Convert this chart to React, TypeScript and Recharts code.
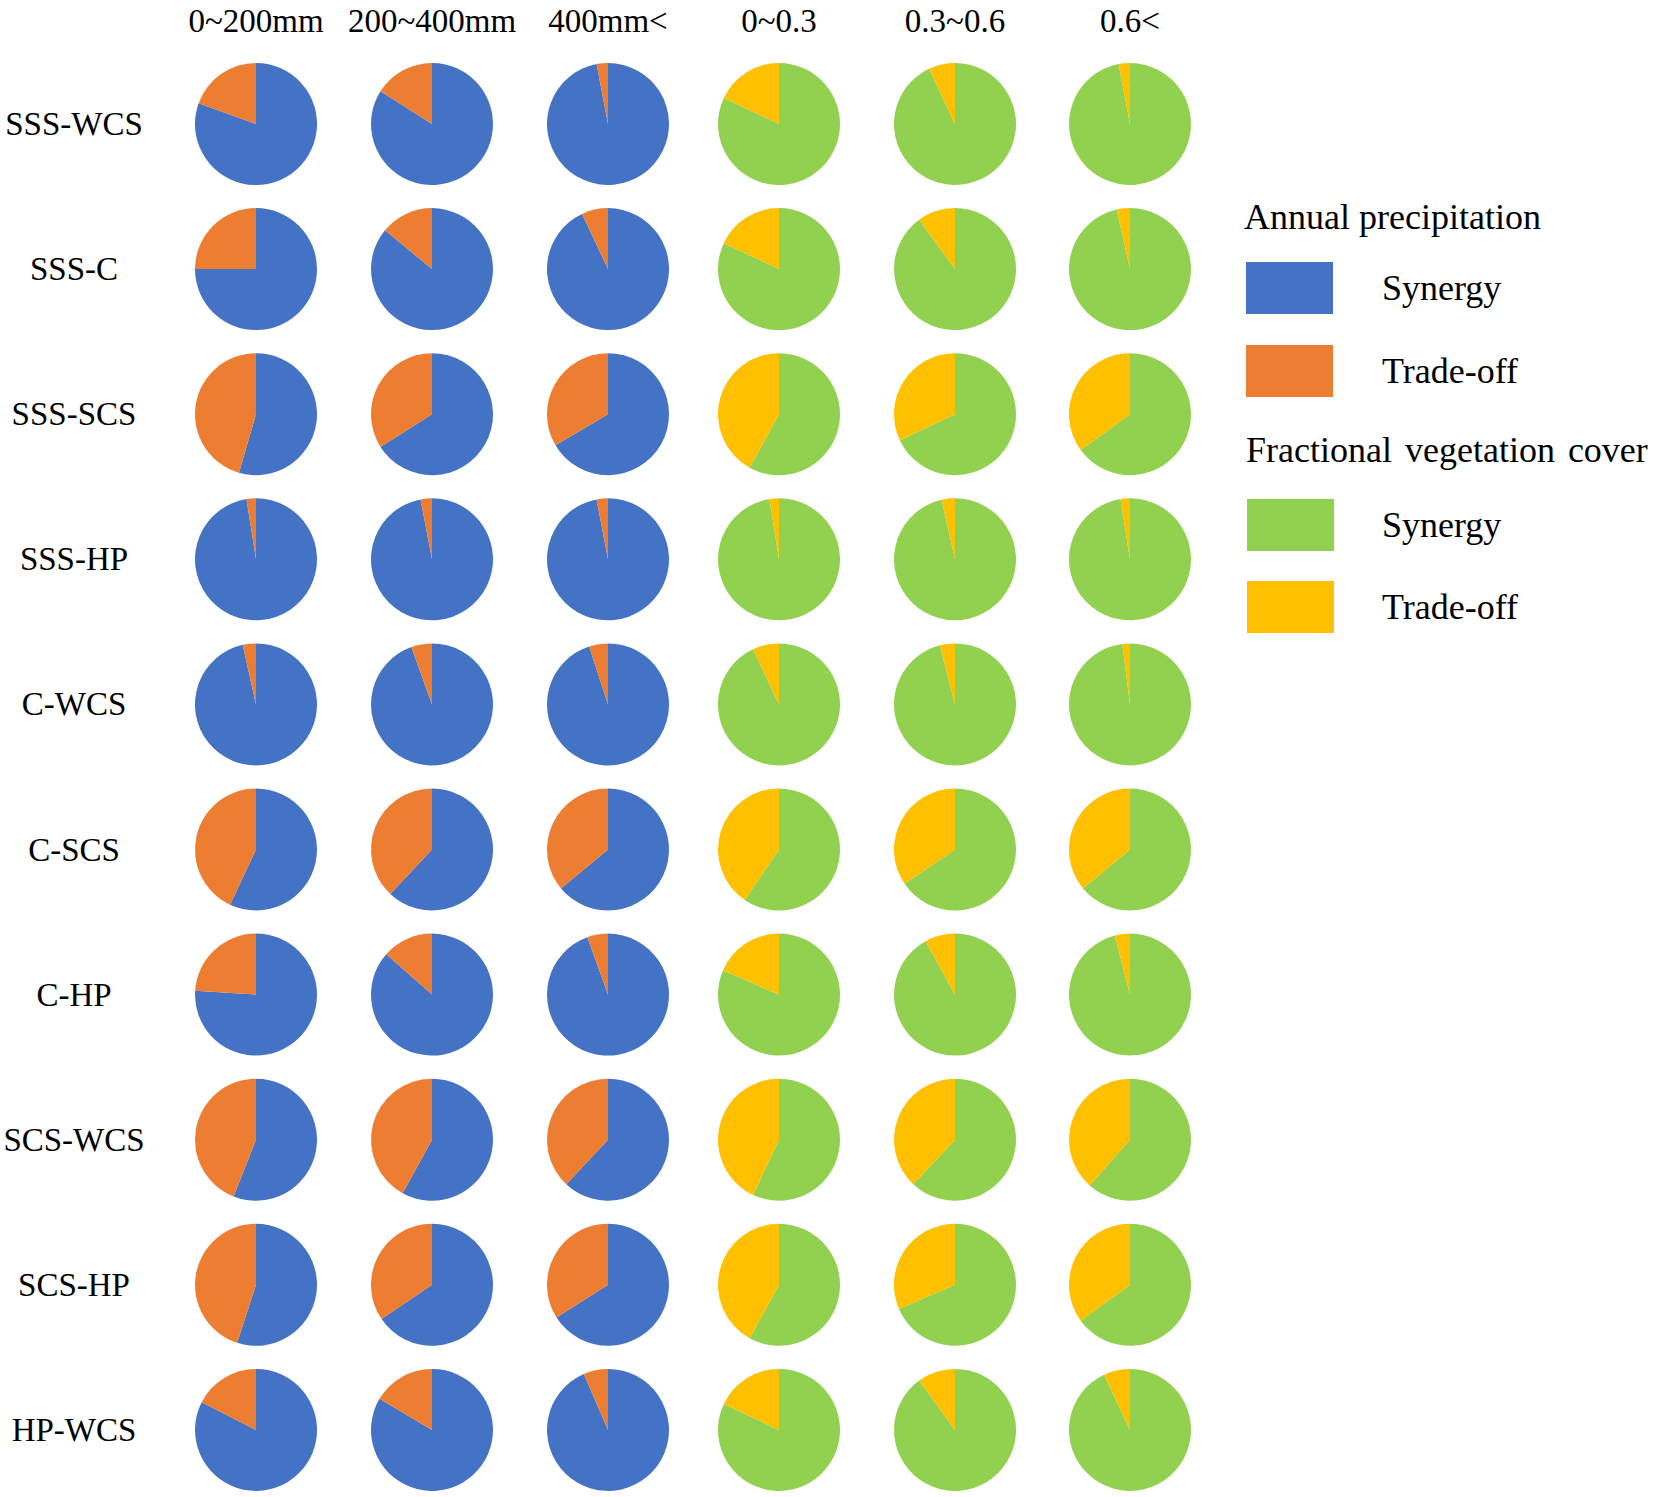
import { PieChart, Pie, Cell } from 'recharts';

// row / column categories
const pairs = ['SSS-WCS', 'SSS-C', 'SSS-SCS', 'SSS-HP', 'C-WCS', 'C-SCS', 'C-HP', 'SCS-WCS', 'SCS-HP', 'HP-WCS'];
const precipClasses = ['0~200mm', '200~400mm', '400mm<'];
const fvcClasses = ['0~0.3', '0.3~0.6', '0.6<'];

// share (%) of trade-off pixels, one list per pair
const precipTradeoff = [
  [19.5, 16, 3],
  [25, 14, 7],
  [45.5, 34, 33.5],
  [2.5, 3, 3],
  [3.5, 5.5, 5],
  [43, 38, 36],
  [24, 13.5, 5.5],
  [44, 42, 38],
  [45, 34.5, 34],
  [17.5, 16.5, 6.5],
];
const fvcTradeoff = [
  [18, 7, 3],
  [18, 10, 3.5],
  [42, 32, 35],
  [2.5, 3.5, 2.5],
  [7, 4, 2],
  [40.5, 34.5, 36],
  [18.5, 8, 4],
  [43, 38, 38.5],
  [42, 31.5, 35],
  [18, 10, 7],
];

const legendGroups = ['Annual precipitation', 'Fractional vegetation cover'];
const legendItems = ['Synergy', 'Trade-off'];

const PRECIP_COLORS = ['#4472C4', '#ED7D31'];
const FVC_COLORS = ['#92D050', '#FFC000'];

const W = 1654;
const H = 1497;
const colX = [256, 432, 608, 779, 955, 1130];
const rowY0 = 124;
const rowStep = 145.1;
const R = 61;
const FONT = '"Liberation Serif", "Times New Roman", serif';

const toSlices = (t: number) => [
  { name: 'Synergy', value: 100 - t },
  { name: 'Trade-off', value: t },
];

const App = () => {
  const pies: any[] = [];
  pairs.forEach((p, i) => {
    const cy = rowY0 + rowStep * i;
    [...precipTradeoff[i], ...fvcTradeoff[i]].forEach((t, j) => {
      const colors = j < 3 ? PRECIP_COLORS : FVC_COLORS;
      pies.push(
        <Pie
          key={`${p}-${j}`}
          data={toSlices(t)}
          dataKey="value"
          cx={colX[j]}
          cy={cy}
          outerRadius={R}
          startAngle={90}
          endAngle={-270}
          stroke="none"
          isAnimationActive={false}
        >
          {colors.map((c) => (
            <Cell key={c} fill={c} />
          ))}
        </Pie>
      );
    });
  });

  return (
    <div style={{ position: 'absolute', left: 0, top: 0, width: W, height: H, background: '#fff' }}>
      <PieChart width={W} height={H} margin={{ top: 0, right: 0, bottom: 0, left: 0 }}>
        {pies}
      </PieChart>
      <svg width={W} height={H} style={{ position: 'absolute', left: 0, top: 0, pointerEvents: 'none' }}>
        <g fontFamily={FONT} fontSize={33} fill="#000">
          {[...precipClasses, ...fvcClasses].map((c, j) => (
            <text key={c} x={colX[j]} y={32} textAnchor="middle">{c}</text>
          ))}
          {pairs.map((p, i) => (
            <text key={p} x={74} y={rowY0 + rowStep * i + 11} textAnchor="middle">{p}</text>
          ))}
        </g>
        <g fontFamily={FONT} fontSize={36} fill="#000">
          <text x={1244} y={229}>{legendGroups[0]}</text>
          <text x={1246} y={462} wordSpacing={4}>{legendGroups[1]}</text>
          {legendItems.map((it, k) => (
            <g key={'p' + it}>
              <rect x={1246} y={262 + k * 83} width={87} height={52} fill={PRECIP_COLORS[k]} />
              <text x={1382} y={300 + k * 83}>{it}</text>
            </g>
          ))}
          {legendItems.map((it, k) => (
            <g key={'f' + it}>
              <rect x={1247} y={499 + k * 82} width={87} height={52} fill={FVC_COLORS[k]} />
              <text x={1382} y={537 + k * 82}>{it}</text>
            </g>
          ))}
        </g>
      </svg>
    </div>
  );
};

export default App;
